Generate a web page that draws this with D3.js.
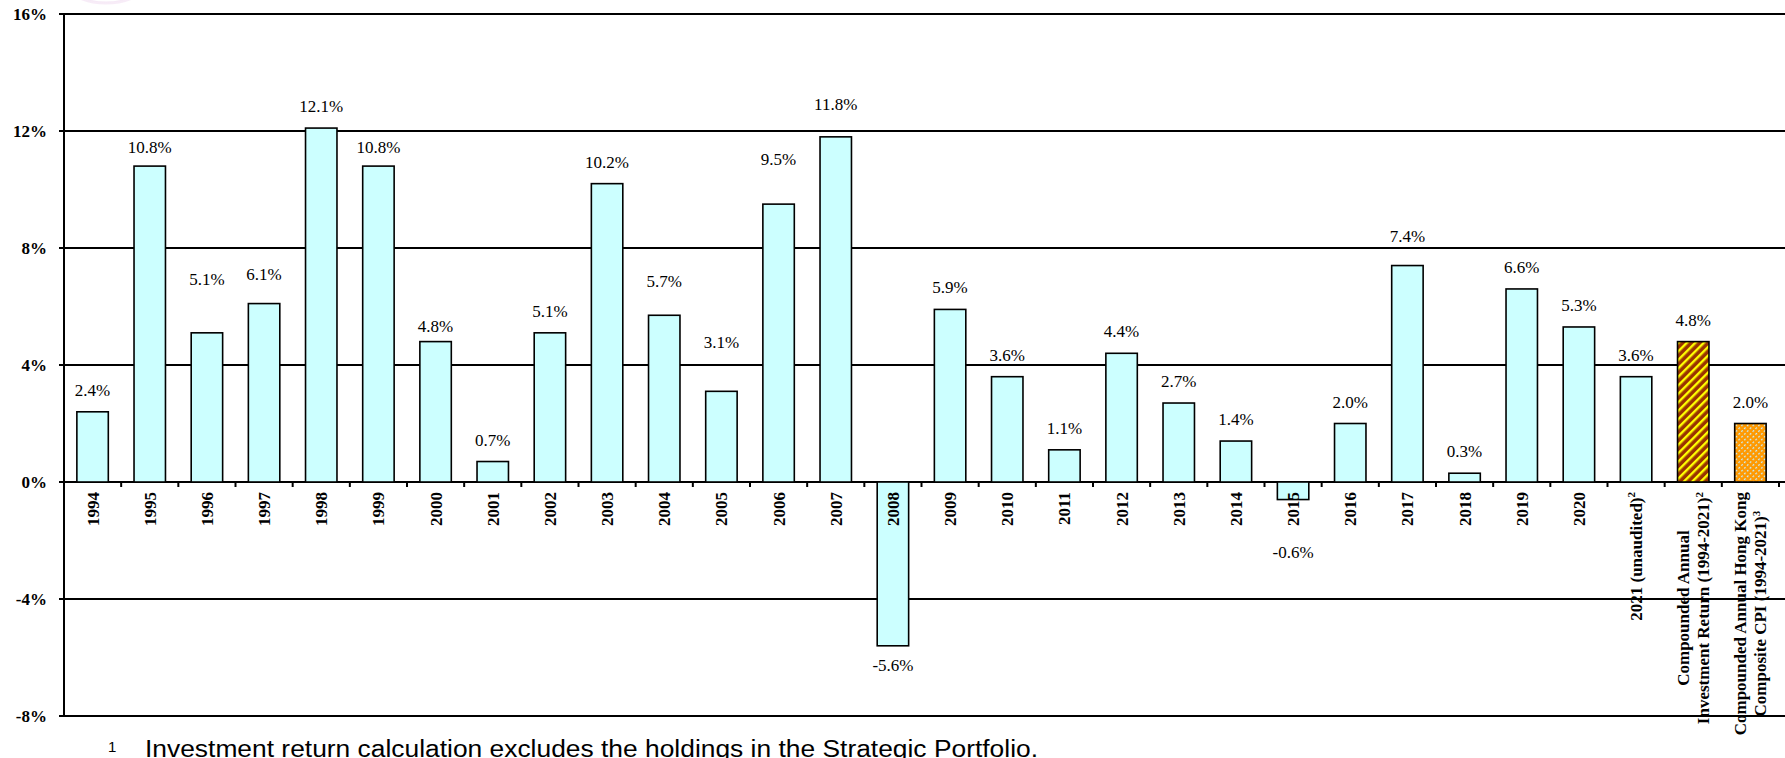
<!DOCTYPE html>
<html>
<head>
<meta charset="utf-8">
<script src="https://cdn.jsdelivr.net/npm/d3@7"></script>
<style>
  html, body { margin: 0; padding: 0; background: #ffffff; }
  svg { display: block; }
</style>
</head>
<body>
<svg id="chart" width="1785" height="758"></svg>
<script>
// ---------------- DATA ----------------
const categories = [
  "1994","1995","1996","1997","1998","1999","2000","2001","2002","2003",
  "2004","2005","2006","2007","2008","2009","2010","2011","2012","2013",
  "2014","2015","2016","2017","2018","2019","2020",
  "2021 (unaudited)",
  "Compounded Annual|Investment Return (1994-2021)",
  "Compounded Annual Hong Kong|Composite CPI (1994-2021)"
];
const footnoteMarks = [
  "","","","","","","","","","","","","","","","","","","","","","","","","","","",
  "2","2","3"
];
const values = [
  2.4, 10.8, 5.1, 6.1, 12.1, 10.8, 4.8, 0.7, 5.1, 10.2,
  5.7, 3.1, 9.5, 11.8, -5.6, 5.9, 3.6, 1.1, 4.4, 2.7,
  1.4, -0.6, 2.0, 7.4, 0.3, 6.6, 5.3,
  3.6, 4.8, 2.0
];
const yTicks = [-8, -4, 0, 4, 8, 12, 16];
const footnoteNumber = "1";
const footnoteText = "Investment return calculation excludes the holdings in the Strategic Portfolio.";

// ---------------- LAYOUT (label placement tweaks, px) ----------------
const labelLift = { "1995": -3, "1996": 32, "1997": 8, "1999": -3, "2000": -6,
                    "2004": 12, "2005": 27, "2006": 23, "2007": 11, "2017": 8 };

// ---------------- CHART ----------------
const W = 1785, H = 758;
const svg = d3.select("#chart");
const serif = "'Liberation Serif', 'Times New Roman', serif";
const sans = "'Liberation Sans', Arial, sans-serif";

const data = categories.map((c, i) => ({ cat: c, v: values[i], mark: footnoteMarks[i], i }));

const x = d3.scaleBand().domain(categories).range([64, 1779]).paddingInner(0.45).paddingOuter(0.225);
const y = d3.scaleLinear().domain([-8, 16]).range([716, 14]);
const step = x.step();
const fmt = v => d3.format(".1f")(v).replace("\u2212", "-") + "%";

// defs: patterns
const defs = svg.append("defs");
const pRet = defs.append("pattern").attr("id", "retPat").attr("patternUnits", "userSpaceOnUse")
  .attr("width", 6).attr("height", 6).attr("patternTransform", "rotate(45)");
pRet.append("rect").attr("width", 6).attr("height", 6).attr("fill", "#993300");
pRet.append("rect").attr("width", 2.4).attr("height", 6).attr("fill", "#ffff00");

const pCpi = defs.append("pattern").attr("id", "cpiPat").attr("patternUnits", "userSpaceOnUse")
  .attr("width", 4).attr("height", 4).attr("patternTransform", "rotate(45)");
pCpi.append("rect").attr("width", 4).attr("height", 4).attr("fill", "#ff9900");
pCpi.append("rect").attr("width", 1.2).attr("height", 2).attr("fill", "#c6f0ff");

const grad = defs.append("radialGradient").attr("id", "logoGrad");
grad.append("stop").attr("offset", "0%").attr("stop-color", "#a060a8");
grad.append("stop").attr("offset", "100%").attr("stop-color", "#f4e4f4");

// faint logo remnant at top-left
svg.append("ellipse").attr("cx", 106).attr("cy", -26).attr("rx", 46).attr("ry", 29)
  .attr("fill", "none").attr("stroke", "url(#logoGrad)").attr("stroke-width", 3).attr("opacity", 0.7);

function fillFor(d) {
  if (d.cat.startsWith("Compounded Annual|Investment")) return "url(#retPat)";
  if (d.cat.startsWith("Compounded Annual Hong Kong")) return "url(#cpiPat)";
  return "#ccffff";
}

// gridlines
svg.append("g").selectAll("line").data(yTicks).join("line")
  .attr("x1", 59).attr("x2", W)
  .attr("y1", d => y(d)).attr("y2", d => y(d))
  .attr("stroke", "#000").attr("stroke-width", 2);

// y tick labels
svg.append("g").selectAll("text").data(yTicks).join("text")
  .attr("x", 47).attr("y", d => y(d)).attr("dy", "0.35em")
  .attr("text-anchor", "end")
  .attr("font-family", serif).attr("font-weight", "bold").attr("font-size", 17)
  .text(d => d + "%");

// bars
svg.append("g").selectAll("rect").data(data).join("rect")
  .attr("x", d => x(d.cat))
  .attr("width", x.bandwidth())
  .attr("y", d => y(Math.max(0, d.v)))
  .attr("height", d => Math.abs(y(d.v) - y(0)))
  .attr("fill", d => fillFor(d))
  .attr("stroke", "#000").attr("stroke-width", 1.6);

// left axis line
svg.append("line").attr("x1", 64).attr("x2", 64).attr("y1", y(16) - 1).attr("y2", y(-8) + 1)
  .attr("stroke", "#000").attr("stroke-width", 2);

// x tick marks at category boundaries
svg.append("g").selectAll("line").data(d3.range(1, categories.length + 1)).join("line")
  .attr("x1", i => 64 + step * i).attr("x2", i => 64 + step * i)
  .attr("y1", y(0)).attr("y2", y(0) + 5)
  .attr("stroke", "#000").attr("stroke-width", 2);

// value labels
svg.append("g").selectAll("text").data(data).join("text")
  .attr("x", d => x(d.cat) + x.bandwidth() / 2)
  .attr("y", d => d.v >= 0 ? y(d.v) - 16 - (labelLift[d.cat] || 0)
                           : Math.max(y(d.v) + 25, y(0) + 76))
  .attr("text-anchor", "middle")
  .attr("font-family", serif).attr("font-size", 17)
  .text(d => fmt(d.v));

// category labels (rotated)
const labTop = y(0) + 10;
const labG = svg.append("g");
data.forEach(d => {
  const lines = d.cat.split("|");
  const xc = x(d.cat) + x.bandwidth() / 2;
  const g = labG.append("g");
  const nodes = lines.map((ln, li) => {
    const off = (li - (lines.length - 1) / 2) * 20;
    const t = g.append("text")
      .attr("text-anchor", "middle")
      .attr("font-family", serif).attr("font-weight", "bold").attr("font-size", 17)
      .attr("dy", "0.35em");
    t.append("tspan").text(ln);
    if (li === lines.length - 1 && d.mark) {
      t.append("tspan").attr("font-size", 11).attr("dy", "-0.6em").text(d.mark);
    }
    return { t, off };
  });
  const maxLen = d3.max(nodes, n => n.t.node().getComputedTextLength());
  const cy = labTop + maxLen / 2;
  nodes.forEach(n => {
    n.t.attr("transform", `translate(${xc + n.off},${cy}) rotate(-90)`);
  });
});

// footnote
svg.append("text").attr("x", 108).attr("y", 752)
  .attr("font-family", sans).attr("font-size", 15).text(footnoteNumber);
svg.append("text").attr("x", 145).attr("y", 757)
  .attr("font-family", sans).attr("font-size", 23)
  .attr("textLength", 893).attr("lengthAdjust", "spacingAndGlyphs")
  .text(footnoteText);
</script>
</body>
</html>
